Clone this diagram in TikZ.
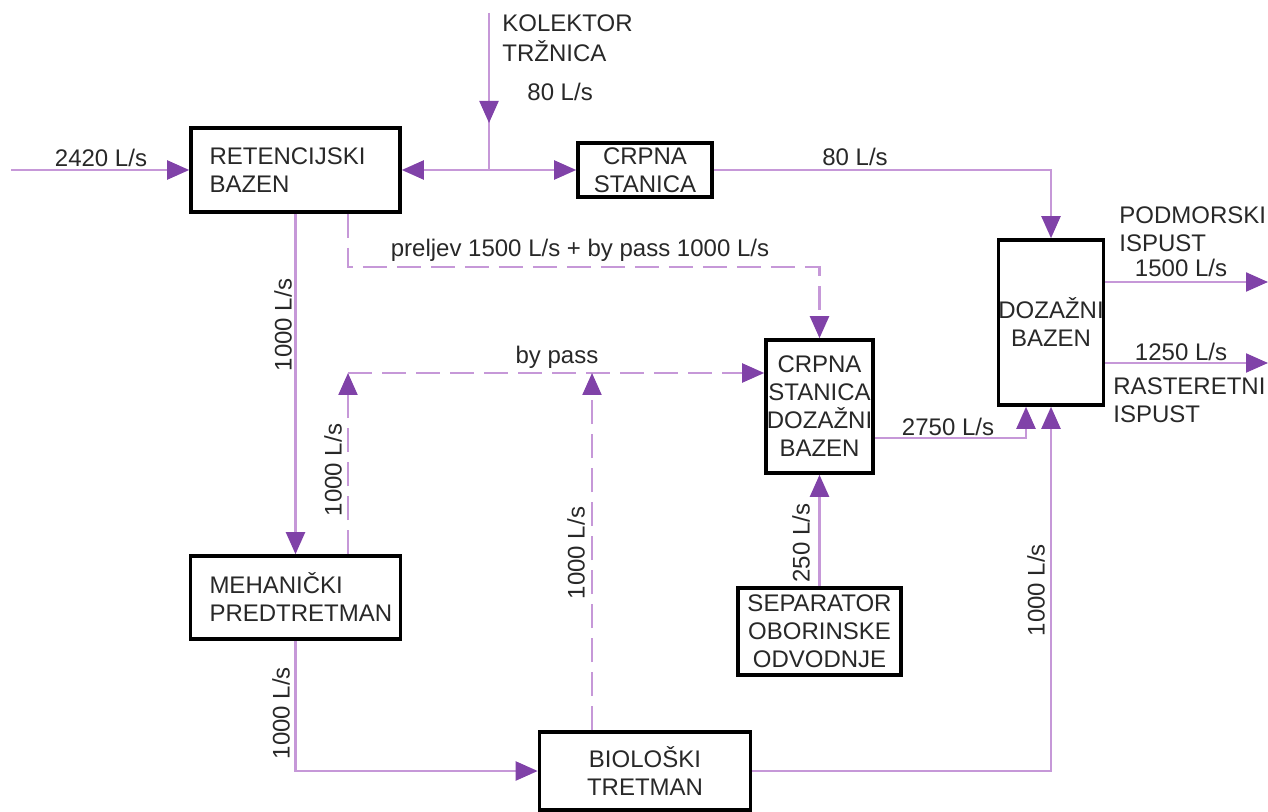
\documentclass[tikz,border=0pt]{standalone}
\usepackage{fontspec}
\setmainfont{Liberation Sans}
\usetikzlibrary{arrows.meta,calc}
\definecolor{linec}{RGB}{198,152,216}
\definecolor{arrowc}{RGB}{128,66,168}
\definecolor{txtc}{RGB}{40,40,40}
\newcommand\labfont{\fontsize{12}{14}\selectfont}
\begin{document}
\begin{tikzpicture}[x=0.5pt,y=-0.5pt,
  >={Triangle[length=11pt,width=9.5pt,color=arrowc]},
  box/.style={draw=black,line width=1.8pt,inner sep=0pt,align=center,font=\labfont,text=txtc},
  flow/.style={draw=linec,line width=1.1pt},
  dflow/.style={draw=linec,line width=1.1pt,dash pattern=on 12pt off 5pt},
  lbl/.style={font=\labfont,text=txtc,inner sep=0pt},
  vlbl/.style={font=\labfont,text=txtc,inner sep=0pt,rotate=90}]
\useasboundingbox (0,0) rectangle (1268,812);
% boxes
\node[box,minimum width=104.5pt,minimum height=42pt,text width=86pt,align=left] (ret) at (295.5,170) {RETENCIJSKI\\BAZEN};
\node[box,minimum width=67pt,minimum height=27pt] (crp) at (645,170) {CRPNA\\STANICA};
\node[box,minimum width=52.5pt,minimum height=82.5pt] (doz) at (1051,322.5) {DOZAŽNI\\BAZEN};
\node[box,minimum width=53.5pt,minimum height=66.5pt] (cds) at (819.5,406.5) {CRPNA\\STANICA\\DOZAŽNI\\BAZEN};
\node[box,minimum width=81.5pt,minimum height=43.5pt] (sep) at (819.5,631.5) {SEPARATOR\\OBORINSKE\\ODVODNJE};
\node[box,minimum width=105pt,minimum height=41.5pt,text width=86pt,align=left] (meh) at (295.5,597.5) {MEHANIČKI\\PREDTRETMAN};
\node[box,minimum width=105.5pt,minimum height=39pt] (bio) at (645,771) {BIOLOŠKI\\TRETMAN};
% coordinates
\coordinate (inL) at (11,170);
\coordinate (kol) at (489,13);
\coordinate (kolarr) at (489,123);
\coordinate (j) at (489,170);
\coordinate (pr) at (348,267);
\coordinate (bp) at (348,373);
\coordinate (bpb) at (592,373);
\coordinate (c2750) at (1026,438);
\coordinate (o1) at (1268,282);
\coordinate (o2) at (1268,363);
% connectors
\draw[flow,->] (inL) -- (ret.west);
\draw[flow] (kol) -- (j);
\draw[flow,->] (kol) -- (kolarr);
\draw[flow,->] (j) -- (ret.east);
\draw[flow,->] (j) -- (crp.west);
\draw[flow,->] (crp.east) -| (doz.north);
\draw[flow,->] (ret.south) -- (meh.north);
\draw[dflow,->] (ret.south -| pr) -- (pr) -| (cds.north);
\draw[dflow,->] (meh.north -| bp) -- (bp);
\draw[dflow,->] (bp) -- (bp -| cds.west);
\draw[dflow,->] (bio.north -| bpb) -- (bpb);
\draw[flow,->] (sep.north) -- (cds.south);
\draw[flow,->] (cds.east |- c2750) -- (c2750) -- (c2750 |- doz.south);
\draw[flow,->] (meh.south) |- (bio.west);
\draw[flow,->] (bio.east) -| (doz.south);
\draw[flow,->] (o1 -| doz.east) -- (o1);
\draw[flow,->] (o2 -| doz.east) -- (o2);
% labels
\node[lbl] (l2420) at (101,158) {2420 L/s};
\node[lbl,align=left,anchor=west] (lkol) at (502,38) {KOLEKTOR\\[1pt]TRŽNICA};
\node[lbl,anchor=west] (l80a) at (527,92) {80 L/s};
\node[lbl] (l80b) at (855,157) {80 L/s};
\node[lbl] (lpre) at (580,250) {preljev 1500 L/s + by pass 1000 L/s};
\node[lbl] (lbp) at (557,357) {by pass};
\node[vlbl] (l1000a) at (283,325) {1000 L/s};
\node[vlbl] (l1000b) at (333,470) {1000 L/s};
\node[vlbl] (l1000c) at (576,553) {1000 L/s};
\node[vlbl] (l1000d) at (281,713) {1000 L/s};
\node[vlbl] (l1000e) at (1036,590) {1000 L/s};
\node[vlbl] (l250) at (801,543) {250 L/s};
\node[lbl] (l2750) at (948,427) {2750 L/s};
\node[lbl,align=left,anchor=west] (lpod) at (1119,229) {PODMORSKI\\ISPUST};
\node[lbl] (l1500) at (1181,268) {1500 L/s};
\node[lbl] (l1250) at (1181,352) {1250 L/s};
\node[lbl,align=left,anchor=west] (lras) at (1113,400) {RASTERETNI\\ISPUST};
\end{tikzpicture}
\end{document}
